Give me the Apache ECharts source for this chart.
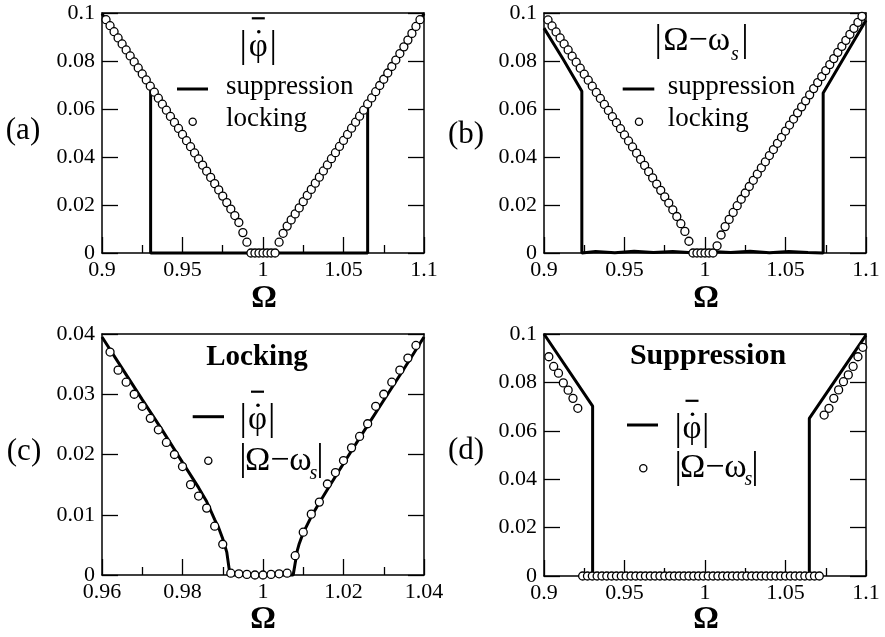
<!DOCTYPE html>
<html>
<head>
<meta charset="utf-8">
<script src="https://cdn.jsdelivr.net/npm/echarts@6.0.0/dist/echarts.min.js"></script>
<style>
  html, body { margin: 0; padding: 0; background: #fff; }
  #chart { width: 885px; height: 637px; }
</style>
</head>
<body>
<div id="chart"></div>
<script>
// ---- data ----------------------------------------------------------
// Omega grid for the locking curves of panels (a) and (b)
const omegaFine = [
  0.9025, 0.905, 0.9075, 0.91, 0.9125, 0.915, 0.9175, 0.92, 0.9225, 0.925,
  0.9275, 0.93, 0.9325, 0.935, 0.9375, 0.94, 0.9425, 0.945, 0.9475, 0.95,
  0.9525, 0.955, 0.9575, 0.96, 0.9625, 0.965, 0.9675, 0.97, 0.9725, 0.975,
  0.9775, 0.98, 0.9825, 0.985, 0.9875, 0.99, 0.9925, 0.995, 0.9975, 1.0,
  1.0025, 1.005, 1.0075, 1.01, 1.0125, 1.015, 1.0175, 1.02, 1.0225, 1.025,
  1.0275, 1.03, 1.0325, 1.035, 1.0375, 1.04, 1.0425, 1.045, 1.0475, 1.05,
  1.0525, 1.055, 1.0575, 1.06, 1.0625, 1.065, 1.0675, 1.07, 1.0725, 1.075,
  1.0775, 1.08, 1.0825, 1.085, 1.0875, 1.09, 1.0925, 1.095, 1.0975
];
// (a) mean |phi-dot| in the locking regime
const lockPhiA = [
  0.0972, 0.0947, 0.0922, 0.0896, 0.0871, 0.0846, 0.0821, 0.0796, 0.0771, 0.0746,
  0.0721, 0.0695, 0.0670, 0.0645, 0.0620, 0.0595, 0.0569, 0.0544, 0.0519, 0.0494,
  0.0468, 0.0443, 0.0417, 0.0392, 0.0366, 0.0341, 0.0315, 0.0289, 0.0263, 0.0237,
  0.0210, 0.0183, 0.0156, 0.0127, 0.0085, 0.0045,
  0, 0, 0, 0, 0, 0, 0,
  0.0045, 0.0082, 0.0112, 0.0138, 0.0163, 0.0188, 0.0214, 0.0240, 0.0265, 0.0291,
  0.0316, 0.0342, 0.0367, 0.0393, 0.0418, 0.0444, 0.0469, 0.0494, 0.0520, 0.0545,
  0.0570, 0.0595, 0.0621, 0.0646, 0.0672, 0.0698, 0.0724, 0.0750, 0.0777, 0.0804,
  0.0831, 0.0859, 0.0887, 0.0915, 0.0944, 0.0972
];
// (a) mean |phi-dot| in the suppression regime
const suppPhiAX = [0.9, 0.9302, 0.9302, 1.065, 1.065, 1.1];
const suppPhiAY = [0.0997, 0.0683, 0, 0, 0.0625, 0.0997];
// (b) |Omega - omega_s| in the locking regime
const lockOmB = [
  0.0971, 0.0946, 0.0921, 0.0896, 0.0871, 0.0846, 0.0820, 0.0795, 0.0770, 0.0745,
  0.0720, 0.0695, 0.0669, 0.0644, 0.0619, 0.0594, 0.0568, 0.0543, 0.0518, 0.0492,
  0.0467, 0.0442, 0.0416, 0.0390, 0.0365, 0.0339, 0.0313, 0.0287, 0.0261, 0.0234,
  0.0208, 0.0180, 0.0152, 0.0122, 0.0090, 0.0049,
  0, 0, 0, 0, 0, 0,
  0.0030, 0.0075, 0.0110, 0.0140, 0.0169, 0.0197, 0.0224, 0.0250, 0.0277, 0.0303,
  0.0329, 0.0355, 0.0380, 0.0406, 0.0431, 0.0457, 0.0482, 0.0508, 0.0533, 0.0558,
  0.0584, 0.0609, 0.0634, 0.0659, 0.0685, 0.0710, 0.0735, 0.0760, 0.0785, 0.0810,
  0.0836, 0.0861, 0.0886, 0.0911, 0.0936, 0.0961, 0.0986
];
// (b) |Omega - omega_s| in the suppression regime
const suppOmX = [0.9, 0.912, 0.9235, 0.9235, 0.932, 0.944, 0.956, 0.968, 0.98, 0.992,
                 1.004, 1.016, 1.028, 1.04, 1.052, 1.064, 1.0734, 1.0734, 1.087, 1.1];
const suppOmY = [0.0937, 0.0806, 0.0674, 0, 0.0006, 0.0001, 0.0007, 0.0002, 0.0006, 0.0001,
                 0.0006, 0.0002, 0.0007, 0.0001, 0.0006, 0.0002, 0, 0.0667, 0.0822, 0.0970];
// (c) locking close-up
const omegaC = [
  0.962, 0.964, 0.966, 0.968, 0.970, 0.972, 0.974, 0.976, 0.978, 0.980,
  0.982, 0.984, 0.986, 0.988, 0.990, 0.992, 0.994, 0.996, 0.998, 1.000,
  1.002, 1.004, 1.006, 1.008, 1.010, 1.012, 1.014, 1.016, 1.018, 1.020,
  1.022, 1.024, 1.026, 1.028, 1.030, 1.032, 1.034, 1.036, 1.038
];
const lockOmC = [
  0.0370, 0.0340, 0.0320, 0.0300, 0.0280, 0.0260, 0.0241, 0.0220, 0.0200, 0.0180,
  0.0150, 0.0131, 0.0111, 0.0081, 0.0051, 0.0003, 0.0002, 0.0001, 0, 0,
  0.0001, 0.0002, 0.0003, 0.0032, 0.0071, 0.0101, 0.0121, 0.0151, 0.0170, 0.0190,
  0.0211, 0.0230, 0.0251, 0.0280, 0.0300, 0.0320, 0.0340, 0.0360, 0.0381
];
const lockPhiCX = [0.96, 0.965, 0.97, 0.975, 0.98, 0.984, 0.986, 0.988, 0.989, 0.990,
                   0.991, 0.9918, 1.0075, 1.008, 1.0085, 1.009, 1.010, 1.012, 1.014, 1.016,
                   1.020, 1.025, 1.030, 1.035, 1.040];
const lockPhiCY = [0.0395, 0.0343, 0.0291, 0.0240, 0.0187, 0.0145, 0.0122, 0.0092, 0.0078, 0.0060,
                   0.0038, 0, 0, 0.0020, 0.0040, 0.0052, 0.0070, 0.0097, 0.0120, 0.0142,
                   0.0185, 0.0238, 0.0290, 0.0342, 0.0395];
// (d) mean |phi-dot| in the suppression regime
const suppPhiX = [0.9, 0.9302, 0.9302, 1.0648, 1.0648, 1.1];
const suppPhiY = [0.1, 0.0702, 0, 0, 0.0651, 0.0995];
// (d) suppression regime, |Omega - omega_s|
const omegaD = [
  0.903, 0.906, 0.909, 0.912, 0.915, 0.918, 0.921,
  0.924, 0.927, 0.930, 0.933, 0.936, 0.939, 0.942, 0.945, 0.948, 0.951,
  0.954, 0.957, 0.960, 0.963, 0.966, 0.969, 0.972, 0.975, 0.978, 0.981,
  0.984, 0.987, 0.990, 0.993, 0.996, 0.999, 1.002, 1.005, 1.008, 1.011,
  1.014, 1.017, 1.020, 1.023, 1.026, 1.029, 1.032, 1.035, 1.038, 1.041,
  1.044, 1.047, 1.050, 1.053, 1.056, 1.059, 1.062, 1.065, 1.068, 1.071,
  1.074, 1.077, 1.080, 1.083, 1.086, 1.089, 1.092, 1.095, 1.098
];
const suppOmD = [
  0.0906, 0.0866, 0.0838, 0.0798, 0.0768, 0.0734, 0.0693,
  0, 0, 0, 0, 0, 0, 0, 0, 0, 0,
  0, 0, 0, 0, 0, 0, 0, 0, 0, 0,
  0, 0, 0, 0, 0, 0, 0, 0, 0, 0,
  0, 0, 0, 0, 0, 0, 0, 0, 0, 0,
  0, 0, 0, 0, 0, 0, 0, 0, 0, 0,
  0.0665, 0.0693, 0.0734, 0.0769, 0.0803, 0.0831, 0.0866, 0.0906, 0.0945
];
// axis ranges: [min, max, interval]
const xRanges = [[0.9, 1.1, 0.05], [0.9, 1.1, 0.05], [0.96, 1.04, 0.02], [0.9, 1.1, 0.05]];
const yRanges = [[0, 0.1, 0.02], [0, 0.1, 0.02], [0, 0.04, 0.01], [0, 0.1, 0.02]];

// ---- layout --------------------------------------------------------
const SERIF = '"Liberation Serif", "Times New Roman", Times, serif';
const grids = [
  { left: 102, top: 13, width: 322, height: 240 },
  { left: 544, top: 13, width: 322, height: 240 },
  { left: 102, top: 334, width: 322, height: 241 },
  { left: 544, top: 334, width: 322, height: 242 }
];
const pairs = (xs, ys) => xs.map((x, i) => [x, ys[i]]);

const axisLine = { show: true, onZero: false, lineStyle: { color: '#000', width: 1.5 } };
const tickStyle = { color: '#000', width: 1.3 };
const xAxes = [], yAxes = [];
grids.forEach((g, i) => {
  const [xmin, xmax, xint] = xRanges[i];
  const [ymin, ymax, yint] = yRanges[i];
  xAxes.push({
    type: 'value', gridIndex: i, position: 'bottom', min: xmin, max: xmax, interval: xint,
    axisLine,
    axisTick: { show: true, inside: true, length: 16, lineStyle: tickStyle },
    minorTick: { show: true, splitNumber: 2, length: 8, lineStyle: tickStyle },
    splitLine: { show: false },
    axisLabel: { color: '#000', fontFamily: SERIF, fontSize: 22, margin: 6, showMinLabel: true, showMaxLabel: true, hideOverlap: false }
  });
  xAxes.push({
    type: 'value', gridIndex: i, position: 'top', min: xmin, max: xmax, interval: xint,
    axisLine, axisTick: { show: false }, axisLabel: { show: false }, splitLine: { show: false }
  });
  yAxes.push({
    type: 'value', gridIndex: i, position: 'left', min: ymin, max: ymax, interval: yint,
    axisLine,
    axisTick: { show: true, inside: true, length: 16, lineStyle: tickStyle },
    splitLine: { show: false },
    axisLabel: { color: '#000', fontFamily: SERIF, fontSize: 22, margin: 7, showMinLabel: true, showMaxLabel: true, hideOverlap: false }
  });
  yAxes.push({
    type: 'value', gridIndex: i, position: 'right', min: ymin, max: ymax, interval: yint,
    axisLine,
    axisTick: { show: true, inside: true, length: 16, lineStyle: tickStyle },
    splitLine: { show: false }, axisLabel: { show: false }
  });
});

function lineSeries(i, xs, ys) {
  return {
    type: 'line', xAxisIndex: 2 * i, yAxisIndex: 2 * i, data: pairs(xs, ys),
    symbol: 'none', showSymbol: false, clip: false, z: 2,
    lineStyle: { color: '#000', width: 3 }, emphasis: { disabled: true }
  };
}
function dotSeries(i, xs, ys) {
  return {
    type: 'scatter', xAxisIndex: 2 * i, yAxisIndex: 2 * i, data: pairs(xs, ys),
    symbol: 'circle', symbolSize: 8, clip: false, z: 3,
    itemStyle: { color: '#fff', borderColor: '#000', borderWidth: 1.3, opacity: 1 },
    emphasis: { disabled: true }
  };
}

const series = [
  lineSeries(0, suppPhiAX, suppPhiAY), dotSeries(0, omegaFine, lockPhiA),
  lineSeries(1, suppOmX, suppOmY), dotSeries(1, omegaFine, lockOmB),
  lineSeries(2, lockPhiCX, lockPhiCY), dotSeries(2, omegaC, lockOmC),
  lineSeries(3, suppPhiX, suppPhiY), dotSeries(3, omegaD, suppOmD)
];

// ---- annotations ---------------------------------------------------
function txt(x, y, s, size, o = {}) {
  return {
    type: 'text', x, y, z: 10, silent: true,
    style: {
      text: s, fill: '#000',
      fontFamily: SERIF, fontSize: size,
      fontStyle: o.italic ? 'italic' : 'normal',
      fontWeight: o.bold ? 'bold' : 'normal',
      textAlign: o.align || 'center', textVerticalAlign: 'middle',
      align: o.align || 'center', verticalAlign: 'middle'
    }
  };
}
function segment(x1, y1, x2, y2, w) {
  return { type: 'line', z: 10, silent: true, shape: { x1, y1, x2, y2 }, style: { stroke: '#000', lineWidth: w } };
}
function ring(cx, cy) {
  return { type: 'circle', z: 10, silent: true, shape: { cx, cy, r: 3.6 }, style: { fill: '#fff', stroke: '#000', lineWidth: 1.3 } };
}
// |phi-dot| with an overbar
function phiBar(lx, rx, cy) {
  const cx = (lx + rx) / 2;
  return [
    txt(lx, cy - 1, '|', 37), txt(rx, cy - 1, '|', 37),
    txt(cx, cy - 1, 'φ', 33),
    { type: 'circle', z: 10, silent: true, shape: { cx: cx + 0.5, cy: cy - 16.5, r: 1.8 }, style: { fill: '#000' } },
    segment(cx - 6.5, cy - 30, cx + 6.5, cy - 30, 2.2)
  ];
}
// |Omega - omega_s|
function omegaDiff(lx, rx, cy, mx, sx, sy) {
  return [
    txt(lx, cy - 1, '|', 37), txt(rx, cy - 1, '|', 37),
    txt(mx, cy - 1, 'Ω−ω', 34),
    txt(sx, sy, 's', 20, { italic: true })
  ];
}

const graphics = [
  // panel tags
  txt(23, 131, '(a)', 31), txt(466, 134.5, '(b)', 31),
  txt(24, 451.5, '(c)', 31), txt(466, 450.5, '(d)', 31),
  // x axis titles
  txt(264, 299, 'Ω', 32, { bold: true }), txt(706, 299, 'Ω', 32, { bold: true }),
  txt(263, 620, 'Ω', 32, { bold: true }), txt(706, 620, 'Ω', 32, { bold: true }),
  // (a)
  ...phiBar(243.3, 273.3, 48.3),
  segment(177, 89, 208, 89, 3), txt(226, 87, 'suppression', 27, { align: 'left' }),
  ring(192.7, 121.7), txt(226, 119, 'locking', 27, { align: 'left' }),
  // (b)
  ...omegaDiff(658.3, 745, 42.5, 696.7, 735, 55),
  segment(622.7, 89, 654.3, 89, 3), txt(667.7, 87, 'suppression', 27, { align: 'left' }),
  ring(639, 121.7), txt(667.7, 119, 'locking', 27, { align: 'left' }),
  // (c)
  txt(257, 358, 'Locking', 29, { bold: true }),
  segment(192.7, 416.7, 224, 416.7, 3), ...phiBar(243.3, 271.7, 421.7),
  ring(208.3, 460.7), ...omegaDiff(243, 320, 461.7, 278.3, 313.3, 473.3),
  // (d)
  txt(708, 356.7, 'Suppression', 30, { bold: true }),
  segment(627, 425, 658, 425, 3), ...phiBar(678.3, 705.7, 430.8),
  ring(643.3, 468.3), ...omegaDiff(678.3, 755, 469.2, 713.3, 748.3, 480)
];

const chart = echarts.init(document.getElementById('chart'), null, { renderer: 'canvas' });
chart.setOption({
  animation: false,
  backgroundColor: '#fff',
  grid: grids.map(g => Object.assign({ containLabel: false }, g)),
  xAxis: xAxes,
  yAxis: yAxes,
  series,
  graphic: { elements: graphics }
});
</script>
</body>
</html>
